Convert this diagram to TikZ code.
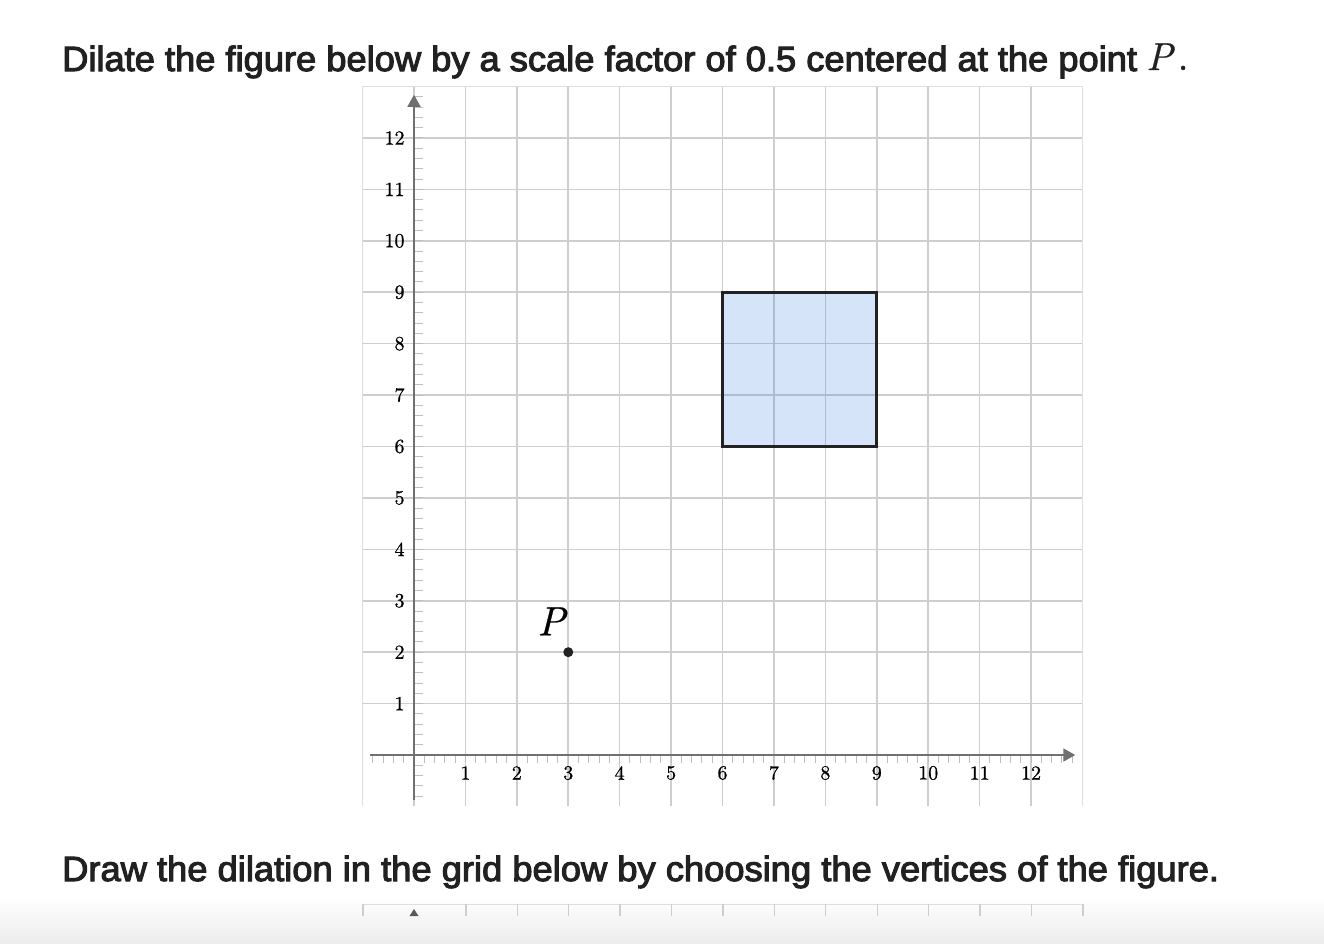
\documentclass[tikz,border=0pt]{standalone}
\usepackage{fontspec}
\usepackage{graphicx}
\newfontfamily\titlefont{Liberation Sans}[FakeBold=3]
\newfontfamily\cmten{lmroman10-regular.otf}[FakeBold=0.8]
\newfontfamily\cmit{lmroman10-italic.otf}[FakeBold=0.6]
\usetikzlibrary{arrows.meta}
\definecolor{gridc}{RGB}{206,206,206}
\definecolor{framec}{RGB}{222,222,222}
\definecolor{axisc}{RGB}{112,112,112}
\definecolor{tickc}{RGB}{190,190,190}
\definecolor{sqfill}{RGB}{50,120,230}
\definecolor{sqedge}{RGB}{34,34,34}
\definecolor{txt}{RGB}{33,33,33}
\definecolor{bandc}{RGB}{236,236,236}
\tikzset{
  gridline/.style={gridc, line width=1.6pt},
  frameline/.style={framec, line width=1pt},
  axisline/.style={axisc, line width=1.8pt, -{Triangle[length=12pt,width=13pt]}},
  minortick/.style={tickc, line width=1pt},
  ticklabel/.style={inner sep=0pt, font=\cmten\fontsize{20}{20}\selectfont, text=black},
  heading/.style={anchor=base west, inner sep=0pt, text=txt},
}
\begin{document}
\begin{tikzpicture}[x=1pt,y=-1pt]
\useasboundingbox (0,0) rectangle (1324,943);
\fill[white] (0,0) rectangle (1324,943);

% title
\node[heading] (title) at (62,71) {\resizebox{1075pt}{\height}{\titlefont\fontsize{35}{40}\selectfont Dilate the figure below by a scale factor of 0.5 centered at the point}};
\node[anchor=base west, inner sep=0pt, text=txt, font=\cmit\fontsize{39}{40}\selectfont] (titleP) at (1146,70) {P\hspace{5pt}{\cmten.}};

% grid
\begin{scope}[shift={(414,755)}, x=51.42pt, y=51.42pt]
  \foreach \i in {0,...,12} \draw[gridline] (\i,-1) -- (\i,13);
  \foreach \j in {1,...,12} \draw[gridline] (-1,\j) -- (13,\j);
  \draw[frameline] (-1,-1) -- (-1,13) -- (13,13) -- (13,-1);
  % figure
  \draw[fill=sqfill, fill opacity=0.2, draw=sqedge, line width=3pt] (6,6) rectangle (9,9);
  % minor ticks
  \foreach \k in {-4,...,64} \draw[minortick] (\k*0.2,0) -- ++(0,-8pt);
  \foreach \k in {-4,...,64} \draw[minortick] (0,\k*0.2) -- ++(9pt,0);
  % axes
  \coordinate (xs) at (-0.86,0);
  \coordinate (xe) at (12.86,0);
  \coordinate (ys) at (0,-0.875);
  \coordinate (ye) at (0,12.84);
  \draw[axisline] (xs) -- (xe);
  \draw[axisline] (ys) -- (ye);
  % labels
  \foreach \i in {1,...,12} \node[ticklabel] (xl\i) at (\i,-0.35) {\i};
  \foreach \i in {1,...,12} \node[ticklabel, anchor=east] (yl\i) at (-0.18,\i) {\i};
  % point P
  \fill[sqedge] (3,2) circle (5pt);
  \node[inner sep=0pt, font=\cmit\fontsize{41}{41}\selectfont] (P) at (2.67,2.6) {P};
\end{scope}

% bottom text
\node[heading] (instr) at (62,881) {\resizebox{1157pt}{\height}{\titlefont\fontsize{35}{40}\selectfont Draw the dilation in the grid below by choosing the vertices of the figure.}};

% bottom band with the top of the next grid
\shade[top color=white, bottom color=bandc] (0,897) rectangle (1324,943);
\draw[frameline] (363,904) -- (1082,904);
\foreach \k in {0,2,3,4,5,6,7,8,9,10,11,12,13,14} \draw[gridc, line width=1.4pt] (363+\k*51.42,904) -- (363+\k*51.42,916);
\fill[axisc!80!black] (409.5,916) -- (418.5,916) -- (414,909) -- cycle;
\end{tikzpicture}
\end{document}
